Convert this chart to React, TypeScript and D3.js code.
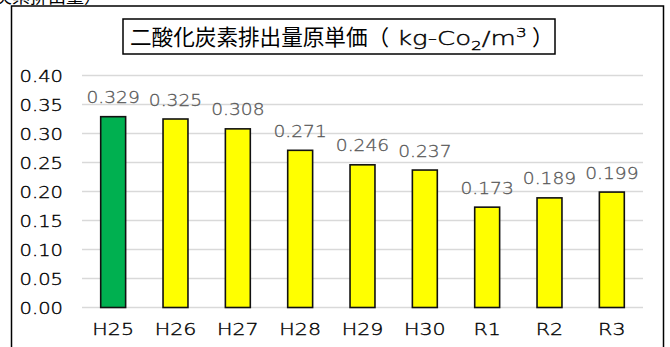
import React from "react";
import * as d3 from "d3";

const categories = ["H25", "H26", "H27", "H28", "H29", "H30", "R1", "R2", "R3"];
const values = [0.329, 0.325, 0.308, 0.271, 0.246, 0.237, 0.173, 0.189, 0.199];
const barColors = ["#00B050", "#FFFF00", "#FFFF00", "#FFFF00", "#FFFF00", "#FFFF00", "#FFFF00", "#FFFF00", "#FFFF00"];
const yTicks = [0, 0.05, 0.1, 0.15, 0.2, 0.25, 0.3, 0.35, 0.4];

const W = 670;
const H = 347;
const FONT = "'Noto Sans CJK JP', 'Noto Sans', sans-serif";
const LATIN = "'DejaVu Sans', 'Noto Sans', sans-serif";
const LW = 200;

export default function App() {
  const x = d3.scaleBand<string>().domain(categories).range([82, 643]).paddingInner(0.6).paddingOuter(0.3);
  const y = d3.scaleLinear().domain([0, 0.4]).range([307.5, 75.5]);
  const fmt = d3.format(".2f");
  const fmt3 = d3.format(".3f");

  return (
    <svg width={W} height={H} style={{ position: "absolute", left: 0, top: 0, background: "#fff" }} fontFamily={FONT}>
      <rect x={0} y={0} width={W} height={H} fill="#fff" />
      {/* cropped heading above frame */}
      <text x={-6} y={3} fontSize={18} fill="#000">炭素排出量）</text>
      {/* outer frame */}
      <rect x={11.5} y={6} width={652} height={360} fill="none" stroke="#000" strokeWidth={1.5} />
      {/* gridlines */}
      {yTicks.map((t) => (
        <line key={"g" + t} x1={82} x2={643} y1={y(t)} y2={y(t)} stroke="#D9D9D9" strokeWidth={1.5} />
      ))}
      {/* y tick labels */}
      {yTicks.map((t) => (
        <text
          key={"t" + t}
          transform={`translate(63,${y(t) + 6}) scale(1.22,1)`}
          fontSize={16}
          fontFamily={LATIN}
          fontWeight={LW}
          textAnchor="end"
          fill="#000"
          stroke="#000"
          strokeWidth={0.35}
        >
          {fmt(t)}
        </text>
      ))}
      {/* bars */}
      {categories.map((c, i) => (
        <rect
          key={c}
          x={x(c)!}
          y={y(values[i])}
          width={x.bandwidth()}
          height={y(0) - y(values[i])}
          fill={barColors[i]}
          stroke="#111"
          strokeWidth={1.6}
        />
      ))}
      {/* data labels */}
      {categories.map((c, i) => (
        <text
          key={"l" + c}
          transform={`translate(${x(c)! + x.bandwidth() / 2},${y(values[i]) - 13.5}) scale(1.13,1)`}
          fontSize={16.5}
          fontFamily={LATIN}
          fontWeight={LW}
          textAnchor="middle"
          fill="#595959"
          stroke="#595959"
          strokeWidth={0.3}
        >
          {fmt3(values[i])}
        </text>
      ))}
      {/* x labels */}
      {categories.map((c) => (
        <text
          key={"x" + c}
          transform={`translate(${x(c)! + x.bandwidth() / 2},335) scale(1.25,1)`}
          fontSize={16.5}
          fontFamily={LATIN}
          fontWeight={LW}
          textAnchor="middle"
          fill="#000"
          stroke="#000"
          strokeWidth={0.35}
        >
          {c}
        </text>
      ))}
      {/* title */}
      <rect x={123} y={19} width={432} height={35} fill="#fff" stroke="#000" strokeWidth={1.5} />
      <text x={130} y={45} fontSize={21.6} fill="#000">二酸化炭素排出量原単価（</text>
      <text
        transform={`translate(397,45) scale(1.3,1)`}
        fontSize={20}
        fontFamily={LATIN}
        fontWeight={LW}
        fill="#000"
        stroke="#000"
        strokeWidth={0.4}
      >
        <tspan>kg-Co</tspan>
        <tspan fontSize={13} dy={5}>2</tspan>
        <tspan dy={-5}>/m</tspan>
        <tspan fontSize={13} dy={-8}>3</tspan>
      </text>
      <text x={532} y={45} fontSize={21.6} fill="#000">）</text>
    </svg>
  );
}
